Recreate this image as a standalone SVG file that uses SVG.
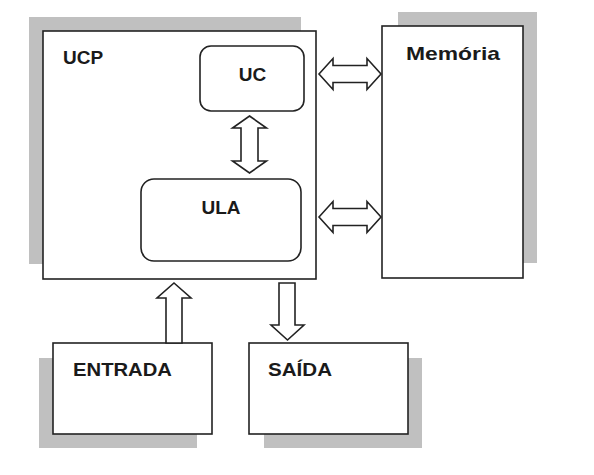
<svg xmlns="http://www.w3.org/2000/svg" width="594" height="475" viewBox="0 0 594 475">
<style>
.sh{fill:#c0c0c0;stroke:none}
.bx{fill:#fff;stroke:#222;stroke-width:1.6}
.ar{fill:#fff;stroke:#222;stroke-width:1.6;stroke-linejoin:miter}
.t{font-family:"Liberation Sans",Arial,sans-serif;font-weight:bold;font-size:19px;fill:#1a1a1a}
</style>
<rect width="594" height="475" fill="#fff"/>
<g id="ucp">
<rect class="sh" x="29" y="17" width="272" height="247"/>
<rect class="bx" x="43" y="31" width="273" height="248"/>
<text class="t" x="63" y="64">UCP</text>
</g>
<g id="uc">
<rect class="bx" x="200" y="46" width="104" height="65" rx="11"/>
<text class="t" x="252.5" y="81" text-anchor="middle">UC</text>
</g>
<g id="ula">
<rect class="bx" x="141" y="179" width="160" height="82" rx="13"/>
<text class="t" x="221" y="214" text-anchor="middle">ULA</text>
</g>
<g id="memoria">
<rect class="sh" x="398" y="12" width="139" height="251"/>
<rect class="bx" x="382" y="26" width="141" height="252"/>
<text class="t" x="406" y="60" textLength="94" lengthAdjust="spacingAndGlyphs">Memória</text>
</g>
<g id="entrada">
<rect class="sh" x="39" y="358" width="158" height="90"/>
<rect class="bx" x="53" y="343" width="159" height="91"/>
<text class="t" x="73" y="376" textLength="99" lengthAdjust="spacingAndGlyphs">ENTRADA</text>
</g>
<g id="saida">
<rect class="sh" x="264" y="358" width="158" height="90"/>
<rect class="bx" x="249" y="343" width="159" height="91"/>
<text class="t" x="268" y="376" textLength="64" lengthAdjust="spacingAndGlyphs">SAÍDA</text>
</g>
<g id="connectors">
<polygon class="ar" points="319,74 333,58.5 333,65.5 367,65.5 367,58.5 381,74 367,89.5 367,82.5 333,82.5 333,89.5"/>
<polygon class="ar" points="319,217 333,201.5 333,208.5 367,208.5 367,201.5 381,217 367,232.5 367,225.5 333,225.5 333,232.5"/>
<polygon class="ar" points="249.5,116 266.5,128 258,128 258,161 266.5,161 249.5,173 232.5,161 241,161 241,128 232.5,128"/>
<polygon class="ar" points="174,283 191,298 182,298 182,343 166,343 166,298 157,298"/>
<polygon class="ar" points="279,283 295,283 295,325 304,325 287.5,340 271,325 279,325"/>
</g>
</svg>
